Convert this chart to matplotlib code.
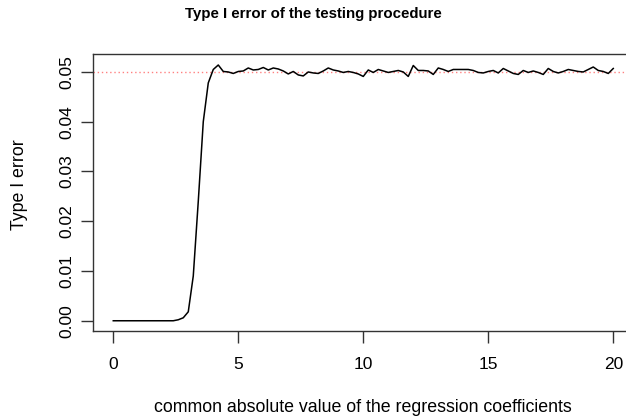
import numpy as np
import matplotlib
matplotlib.use("Agg")
import matplotlib.pyplot as plt

# Data (x from 0 to 20 in steps of 0.2)
coef_values = np.linspace(0, 20, 101)
type1_error = [
    0.0, 0.0, 0.0, 0.0, 0.0, 0.0, 0.0, 0.0, 0.0, 0.0, 0.0, 0.0, 0.0,
    0.0002, 0.0006, 0.0018, 0.0090, 0.0240, 0.0400, 0.0478, 0.0505, 0.0514,
    0.0501, 0.0500, 0.0497, 0.0501, 0.0502, 0.0508, 0.0504, 0.0505, 0.0509,
    0.0504, 0.0508, 0.0506, 0.0502, 0.0496, 0.0501, 0.0494, 0.0492, 0.0500,
    0.0498, 0.0497, 0.0502, 0.0508, 0.0504, 0.0502, 0.0499, 0.0501, 0.0499,
    0.0496, 0.0491, 0.0504, 0.0499, 0.0505, 0.0502, 0.0499, 0.0501, 0.0503,
    0.0500, 0.0491, 0.0513, 0.0503, 0.0503, 0.0502, 0.0495, 0.0508, 0.0505,
    0.0501, 0.0505, 0.0505, 0.0505, 0.0505, 0.0503, 0.0499, 0.0498, 0.0501,
    0.0503, 0.0498, 0.0507, 0.0502, 0.0497, 0.0495, 0.0503, 0.0499, 0.0502,
    0.0499, 0.0495, 0.0507, 0.0501, 0.0498, 0.0501, 0.0505, 0.0503, 0.0501,
    0.0500, 0.0505, 0.0510, 0.0503, 0.0501, 0.0497, 0.0507,
]
nominal_level = 0.05
x_ticks = [0, 5, 10, 15, 20]
y_ticks = [0.00, 0.01, 0.02, 0.03, 0.04, 0.05]

plt.rcParams['font.family'] = ['Liberation Sans', 'DejaVu Sans']

fig = plt.figure(figsize=(6.26, 4.19), dpi=100)
# plot region runs past the right edge, as in the reference crop
ax = fig.add_axes([0.149, 0.21, 0.8626, 0.661])

ax.plot(coef_values, type1_error, color='black', lw=1.1)
ax.axhline(nominal_level, color='#ff8080', lw=1.0, ls=(0, (1, 2)), zorder=1)

ax.set_xlim(-0.8, 20.8)
ax.set_ylim(-0.00206, 0.0536)
ax.set_xticks(x_ticks)
ax.set_xticklabels([str(v) for v in x_ticks])
ax.set_yticks(y_ticks)
ax.set_yticklabels([f"{v:.2f}" for v in y_ticks], rotation=90, va='center')

for s in ax.spines.values():
    s.set_color('#333333')
    s.set_linewidth(1.0)
ax.tick_params(direction='out', length=8.5, width=1.0, color='#333333',
               labelsize=12.5)
ax.tick_params(axis='x', pad=10)
ax.tick_params(axis='y', pad=5)

# x label is centred on the (cropped) plot region, like R does
fig.text(0.149 + 0.8626 / 2, 1 - 407 / 419,
         "common absolute value of the regression coefficients",
         ha='center', va='center', fontsize=12.8)
fig.text(20 / 626, 1 - 185 / 419, "Type I error",
         ha='center', va='center', rotation=90, fontsize=12.8)
fig.text(0.5, 1 - 14 / 419, "Type I error of the testing procedure",
         ha='center', va='center', fontsize=10.8, fontweight='bold')

fig.savefig("out.png", dpi=100)
